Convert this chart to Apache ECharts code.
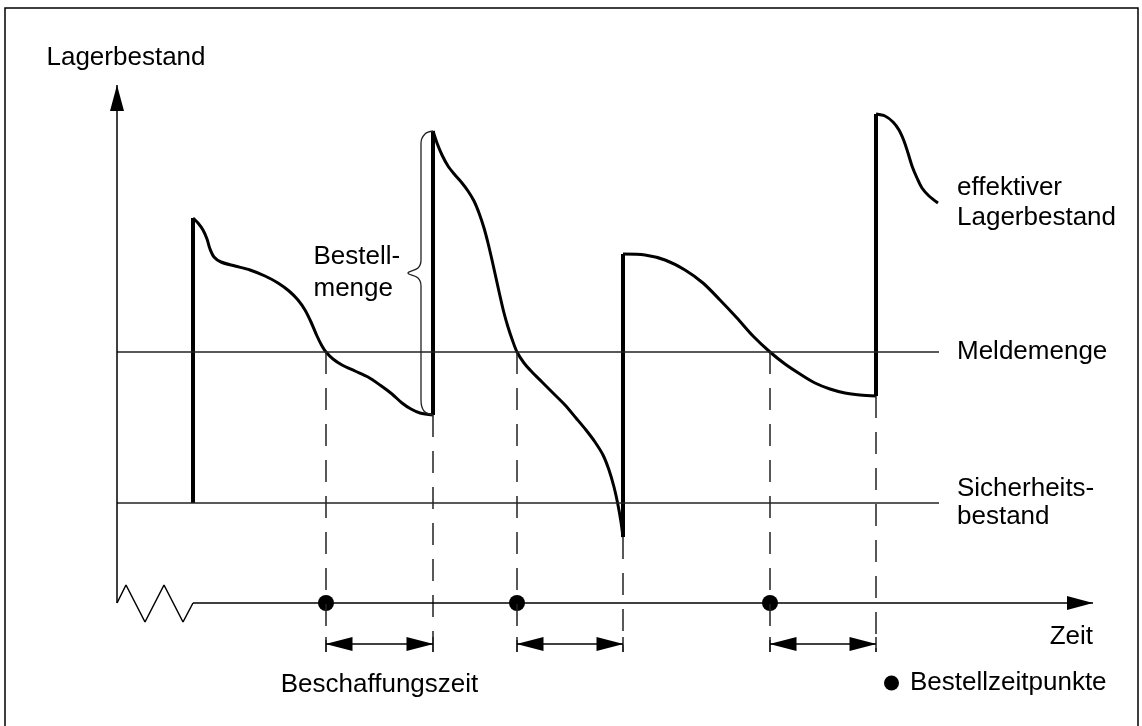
<!DOCTYPE html>
<html>
<head>
<meta charset="utf-8">
<title>Lagerbestand</title>
<script src="https://cdn.jsdelivr.net/npm/echarts@6/dist/echarts.min.js"></script>
<style>
  html, body { margin: 0; padding: 0; background: #fff; }
  #chart { width: 1142px; height: 726px; }
</style>
</head>
<body>
<div id="chart"></div>
<script>
// Zeit (x) und Lagerbestand (y)
const zyklus1 = [[76,385],[81,380],[86,373],[90,364],[93,354],[97,346],[104,341],[118,337],[133,333],[148,327],[161,320],[172,312],[181,303],[188,293],[194,281],[200,267],[205,257],[209,251],[216,244],[225,238],[238,232],[251,226],[263,218],[275,209],[285,200],[294,194],[303,190],[316,188]]
const zyklus2 = [[316,472],[320,460],[325,448],[331,437],[338,428],[345,420],[351,412],[357,402],[362,390],[367,375],[371,360],[375,343],[379,325],[383,307],[387,290],[391,276],[395,264],[400,251],[407,240],[415,231],[425,221],[436,210],[448,198],[459,185],[469,173],[478,161],[486,148],[492,133],[497,116],[501,98],[504,81],[506,66]]
const zyklus3 = [[506,349],[528,348],[548,343],[568,333],[586,320],[603,303],[620,285],[636,267],[653,251],[668,239],[683,229],[698,220],[713,214],[728,210],[743,208],[759,207]]
const zyklus4 = [[759,489],[768,487],[776,481],[782,473],[787,462],[791,450],[795,437],[800,425],[805,415],[812,407],[821,400]]

// Lieferungen: Zeitpunkt, Bestand vorher, Bestand nachher
const lieferungen = [[76,100,385],[316,188,472],[506,66,349],[759,207,489]]
const bestellzeitpunkte = [209, 400, 653]

const meldemenge = 251
const sicherheitsbestand = 100
const linienEnde = 822
const zeitachseEnde = 976
const bestandsachseEnde = 518
const pfeilZeile = -41
const unterkante = -49

// Bruch der Zeitachse
const achsenBruch = [[0,0],[9,18],[28,-19],[47,18],[66,-19],[76,0]]
// geschweifte Klammer fuer die Bestellmenge
const klammer = [[316,472],[308,469],[304,460],[304,343],[301,335],[291,330],[301,325],[304,317],[304,203],[307,192],[316,188]]

const FONT = 'Liberation Sans, Arial, sans-serif'
const SCHWARZ = '#000'

const mitLuecken = (teile) => {
  const out = []
  teile.forEach((t, i) => {
    if (i > 0) out.push([null, null])
    t.forEach((p) => out.push(p))
  })
  return out
}

const senkrechte = lieferungen.map((l) => [[l[0], l[1]], [l[0], l[2]]])
const gestrichelt = [
  ...bestellzeitpunkte.map((t) => [[t, meldemenge], [t, unterkante]]),
  ...lieferungen.slice(1).map((l) => [[l[0], l[1]], [l[0], unterkante]]),
]
const pfeile = bestellzeitpunkte.map((t, i) => [t, lieferungen[i + 1][0]])

const chart = echarts.init(document.getElementById('chart'))

const option = {
  animation: false,
  textStyle: { fontFamily: FONT, color: SCHWARZ },
  grid: { left: 117, top: 73, width: 976, height: 600 },
  xAxis: { type: 'value', min: 0, max: zeitachseEnde, show: false },
  yAxis: {
    type: 'value',
    min: -70,
    max: 530,
    name: 'Lagerbestand',
    nameLocation: 'end',
    nameGap: 15,
    nameTextStyle: { fontSize: 26, fontFamily: FONT, color: SCHWARZ, align: 'center', verticalAlign: 'middle', padding: [0, 0, 0, 18] },
    axisLine: { show: false },
    axisTick: { show: false },
    axisLabel: { show: false },
    splitLine: { show: false },
  },
  legend: {
    data: [{ name: 'Bestellzeitpunkte', icon: 'circle' }],
    left: 884,
    top: 670,
    padding: 0,
    itemWidth: 15,
    itemHeight: 15,
    selectedMode: false,
    textStyle: { fontSize: 26, fontFamily: FONT, color: SCHWARZ, padding: [0, 0, 0, 6] },
  },
  graphic: [
    {
      type: 'rect',
      shape: { x: 5, y: 8, width: 1133, height: 740 },
      style: { fill: 'none', stroke: SCHWARZ, lineWidth: 1.5 },
      silent: true,
    },
  ],
  series: [
    {
      name: 'effektiver Lagerbestand',
      type: 'line',
      data: mitLuecken([zyklus1, zyklus2, zyklus3, zyklus4]),
      smooth: 0.3,
      showSymbol: false,
      clip: false,
      lineStyle: { color: SCHWARZ, width: 3 },
      endLabel: {
        show: true,
        formatter: 'effektiver\nLagerbestand',
        fontSize: 26,
        fontFamily: FONT,
        color: SCHWARZ,
        distance: 19,
        lineHeight: 30,
      },
    },
    {
      name: 'Lieferungen',
      type: 'line',
      data: mitLuecken(senkrechte),
      showSymbol: false,
      clip: false,
      lineStyle: { color: SCHWARZ, width: 4 },
    },
    {
      name: 'Meldemenge',
      type: 'line',
      data: [[0, meldemenge], [linienEnde, meldemenge]],
      showSymbol: false,
      lineStyle: { color: '#222', width: 1.5 },
      endLabel: { show: true, formatter: 'Meldemenge', fontSize: 26, fontFamily: FONT, color: SCHWARZ, distance: 18 },
    },
    {
      name: 'Sicherheitsbestand',
      type: 'line',
      data: [[0, sicherheitsbestand], [linienEnde, sicherheitsbestand]],
      showSymbol: false,
      lineStyle: { color: '#222', width: 1.5 },
      endLabel: {
        show: true,
        formatter: 'Sicherheits-\nbestand',
        fontSize: 26,
        fontFamily: FONT,
        color: SCHWARZ,
        distance: 18,
        lineHeight: 28,
      },
    },
    {
      name: 'Hilfslinien',
      type: 'line',
      data: mitLuecken(gestrichelt),
      showSymbol: false,
      clip: false,
      lineStyle: { color: '#222', width: 1.5, type: [22, 14] },
      markLine: {
        silent: true,
        symbol: ['triangle', 'triangle'],
        symbolSize: [14, 27],
        symbolOffset: [[0, 13], [0, 13]],
        lineStyle: { color: SCHWARZ, width: 1.5, type: 'solid' },
        label: { show: false },
        data: pfeile.map((p, i) => [
          {
            coord: [p[0], pfeilZeile],
            label: i === 0
              ? { show: true, formatter: 'Beschaffungszeit', position: 'insideMiddleBottom', distance: 28, fontSize: 26, fontFamily: FONT, color: SCHWARZ }
              : { show: false },
          },
          { coord: [p[1], pfeilZeile] },
        ]),
      },
    },
    {
      name: 'Pfeilenden',
      type: 'line',
      data: mitLuecken([...bestellzeitpunkte, ...lieferungen.slice(1).map((l) => l[0])].map((t) => [[t, pfeilZeile + 7], [t, pfeilZeile - 8]])),
      showSymbol: false,
      clip: false,
      lineStyle: { color: '#222', width: 1.5 },
    },
    {
      name: 'Zeitachse',
      type: 'line',
      data: achsenBruch,
      showSymbol: false,
      clip: false,
      lineStyle: { color: SCHWARZ, width: 1.5 },
      markLine: {
        silent: true,
        symbol: ['none', 'triangle'],
        symbolSize: [14, 26],
        symbolOffset: [[0, 0], [0, 13]],
        lineStyle: { color: SCHWARZ, width: 1.5, type: 'solid' },
        data: [
          [
            {
              coord: [achsenBruch[achsenBruch.length - 1][0], 0],
              label: { show: true, formatter: 'Zeit', position: 'insideEndBottom', distance: [0, 21], fontSize: 26, fontFamily: FONT, color: SCHWARZ },
            },
            { coord: [zeitachseEnde, 0] },
          ],
          [
            { coord: [0, 0], label: { show: false } },
            { coord: [0, bestandsachseEnde] },
          ],
        ],
      },
    },
    {
      name: 'Bestellmenge',
      type: 'line',
      data: klammer,
      smooth: 0.4,
      showSymbol: false,
      clip: false,
      lineStyle: { color: '#222', width: 1.3 },
      markPoint: {
        silent: true,
        symbol: 'circle',
        symbolSize: 1,
        itemStyle: { color: 'rgba(0,0,0,0)' },
        data: [
          {
            coord: klammer[5],
            label: {
              show: true,
              position: 'left',
              distance: 2,
              formatter: '{a|Bestell-}\n{a|menge}',
              rich: { a: { width: 92, align: 'left', fontSize: 26, fontFamily: FONT, color: SCHWARZ, lineHeight: 32 } },
            },
          },
        ],
      },
    },
    {
      name: 'Bestellzeitpunkte',
      type: 'scatter',
      data: bestellzeitpunkte.map((t) => [t, 0]),
      symbol: 'circle',
      symbolSize: 16,
      itemStyle: { color: SCHWARZ, opacity: 1 },
      clip: false,
    },
  ],
}

chart.setOption(option)
</script>
</body>
</html>
